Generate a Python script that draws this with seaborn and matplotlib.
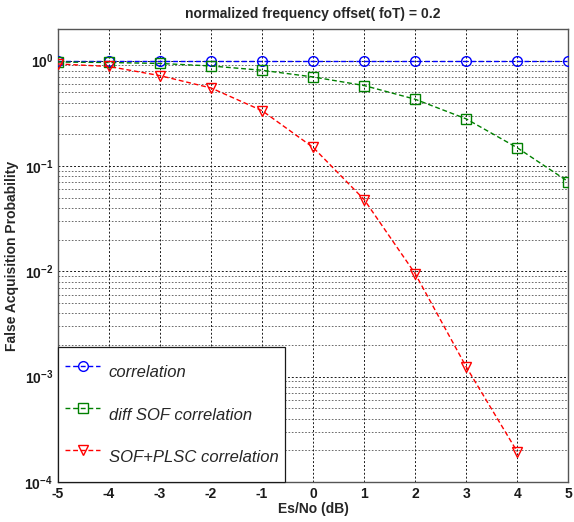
import numpy as np
import pandas as pd
import matplotlib
matplotlib.use("Agg")
import matplotlib.pyplot as plt
import seaborn as sns
from matplotlib.ticker import LogLocator, NullFormatter

sns.set_theme(style="white")
plt.rcParams['font.family'] = ['Liberation Sans', 'DejaVu Sans']
plt.rcParams['mathtext.fontset'] = 'custom'
plt.rcParams['mathtext.rm'] = 'Liberation Sans:bold'
plt.rcParams['mathtext.bf'] = 'Liberation Sans:bold'
plt.rcParams['axes.unicode_minus'] = False

esno = [-5, -4, -3, -2, -1, 0, 1, 2, 3, 4, 5]
corr = [1.0, 1.0, 1.0, 1.0, 1.0, 1.0, 1.0, 1.0, 1.0, 1.0, 1.0]
diff_sof = [0.97, 0.96, 0.94, 0.89, 0.81, 0.70, 0.58, 0.43, 0.28, 0.149, 0.071]
esno_red = [-5, -4, -3, -2, -1, 0, 1, 2, 3, 4]
sof_plsc = [0.93, 0.88, 0.72, 0.55, 0.335, 0.15, 0.048, 0.0095, 0.00124, 0.000194]
labels = ["correlation", "diff SOF correlation", "SOF+PLSC correlation"]

fig = plt.figure(figsize=(5.74, 5.22), dpi=100)
ax = fig.add_axes([0.101, 0.0766, 0.889, 0.868])

series = [
    (esno, corr, labels[0], (0, 0, 1), 'o'),
    (esno, diff_sof, labels[1], (0, 0.5, 0), 's'),
    (esno_red, sof_plsc, labels[2], (1, 0, 0), 'v'),
]
for xs, ys, lab, col, mk in series:
    df = pd.DataFrame({"x": xs, "y": ys})
    sns.lineplot(data=df, x="x", y="y", ax=ax, color=col, marker=mk,
                 linestyle=(0, (3.5, 2)), linewidth=1.0, markersize=7,
                 markerfacecolor='none', markeredgecolor=col,
                 markeredgewidth=1.0, label=lab, zorder=3)

ax.set_yscale('log')
ax.set_xlim(-5, 5)
ax.set_ylim(1e-4, 2)
ax.set_xticks(range(-5, 6))
ax.yaxis.set_major_locator(LogLocator(base=10, numticks=10))
ax.yaxis.set_minor_locator(LogLocator(base=10, subs=np.arange(2, 10), numticks=50))
ax.yaxis.set_minor_formatter(NullFormatter())

ax.grid(True, which='major', color='k', linestyle=(0, (2, 2)), linewidth=0.7)
ax.grid(True, which='minor', axis='y', color='k', linestyle=(0, (2, 2)), linewidth=0.6, alpha=0.75)

for sp in ax.spines.values():
    sp.set_color('#555555')
    sp.set_linewidth(1.0)

ax.tick_params(axis='both', which='major', direction='in', length=4, labelsize=10,
               colors='k', width=0.8)
ax.tick_params(axis='y', which='minor', direction='in', length=2, width=0.6)
for t in ax.get_xticklabels() + ax.get_yticklabels():
    t.set_fontweight('bold')

ax.set_xlabel("Es/No (dB)", fontsize=10, fontweight='bold', labelpad=1)
ax.set_ylabel("False Acquisition Probability", fontsize=10, fontweight='bold', labelpad=4)
ax.set_title("normalized frequency offset( foT) = 0.2", fontsize=10, fontweight='bold', pad=8)

leg = ax.legend(loc='lower left', bbox_to_anchor=(0, 0), borderaxespad=0,
                frameon=True, fancybox=False, framealpha=1, edgecolor='k',
                prop={'style': 'italic', 'size': 12}, labelspacing=0.3,
                handlelength=2.15, handleheight=3.05, borderpad=0.4,
                handletextpad=0.5)
leg.get_frame().set_linewidth(0.9)
leg.set_zorder(5)

fig.savefig("out.png", dpi=100)
